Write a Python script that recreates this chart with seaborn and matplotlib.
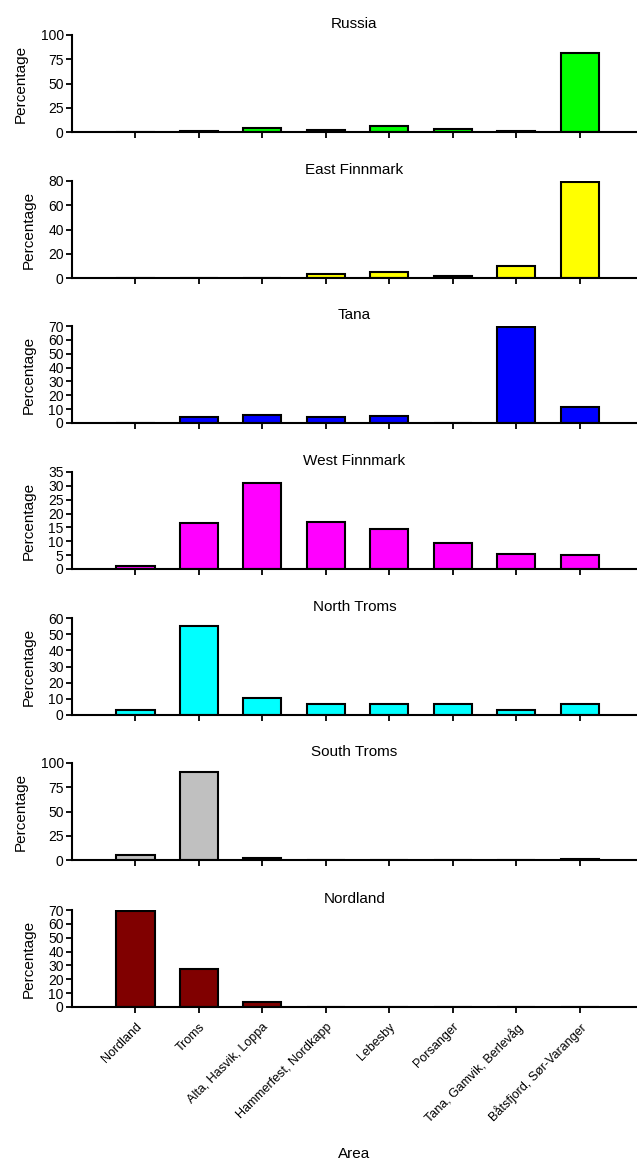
import numpy as np
import pandas as pd
import matplotlib
matplotlib.use("Agg")
import matplotlib.pyplot as plt
import seaborn as sns

# Catch areas (x categories)
areas = ["Nordland", "Troms", "Alta, Hasvik, Loppa", "Hammerfest, Nordkapp",
         "Lebesby", "Porsanger", "Tana, Gamvik, Berlevåg", "Båtsfjord, Sør-Varanger"]

# Percentage of each origin group caught in each area
russia = [0, 1, 4.5, 2, 6, 3.5, 1, 81]
east_finnmark = [0, 0, 0, 3.5, 5, 2, 9.5, 79]
tana = [0, 4.5, 5.5, 4, 4.8, 0, 69.5, 11.5]
west_finnmark = [1, 16.5, 31, 17, 14.5, 9.5, 5.3, 5]
north_troms = [3.4, 55.2, 10.3, 6.9, 6.9, 6.9, 3.4, 6.9]
south_troms = [5.5, 90.5, 2, 0, 0, 0, 0, 1]
nordland = [69, 27.5, 3.5, 0, 0, 0, 0, 0]

panel_titles = ["Russia", "East Finnmark", "Tana", "West Finnmark",
                "North Troms", "South Troms", "Nordland"]
panel_values = [russia, east_finnmark, tana, west_finnmark,
                north_troms, south_troms, nordland]
panel_colors = ["#00FF00", "#FFFF00", "#0000FF", "#FF00FF",
                "#00FFFF", "#C0C0C0", "#800000"]
panel_yticks = [[0, 25, 50, 75, 100],
                [0, 20, 40, 60, 80],
                list(range(0, 71, 10)),
                list(range(0, 36, 5)),
                list(range(0, 61, 10)),
                [0, 25, 50, 75, 100],
                list(range(0, 71, 10))]

sns.set_style("ticks")
plt.rcParams["font.family"] = ["Liberation Sans", "DejaVu Sans"]
plt.rcParams["text.color"] = "black"
plt.rcParams["axes.labelcolor"] = "black"
plt.rcParams["xtick.color"] = "black"
plt.rcParams["ytick.color"] = "black"

W, H = 637, 1162
fig = plt.figure(figsize=(W / 100, H / 100), dpi=100)

# axes tops (px from top of figure), each panel ~97 px tall
tops = [35, 181, 326, 472, 618, 763, 910]
ax_h = 97
left_px = 72

for i, (title, vals, col, yt) in enumerate(zip(panel_titles, panel_values,
                                                 panel_colors, panel_yticks)):
    top = tops[i]
    ax = fig.add_axes([left_px / W, 1 - (top + ax_h) / H, 1 - left_px / W, ax_h / H])
    df = pd.DataFrame({"Area": areas, "Percentage": vals})
    sns.barplot(data=df, x="Area", y="Percentage", order=areas, color=col,
                saturation=1, edgecolor="black", linewidth=1.5, width=0.6, ax=ax)
    ax.set_xlim(-1, 7.9)
    ax.set_ylim(0, yt[-1])
    ax.set_yticks(yt)
    ax.set_title(title, fontsize=11, pad=5, color="black")
    ax.set_ylabel("Percentage", fontsize=11, labelpad=9)
    ax.tick_params(axis="both", direction="out", length=4, width=1.3,
                   labelsize=10, pad=2, color="black", labelcolor="black")
    for s in ["top", "right"]:
        ax.spines[s].set_visible(False)
    for s in ["left", "bottom"]:
        ax.spines[s].set_linewidth(1.5)
        ax.spines[s].set_color("black")
    if i < len(panel_titles) - 1:
        ax.set_xlabel("")
        ax.set_xticklabels([])
    else:
        ax.set_xticks(range(len(areas)))
        ax.set_xticklabels(areas, rotation=45, ha="right", rotation_mode="anchor",
                           fontsize=9)
        ax.tick_params(axis="x", pad=6)
        ax.set_xlabel("Area", fontsize=11, labelpad=16)

fig.savefig("out.png", dpi=100)
